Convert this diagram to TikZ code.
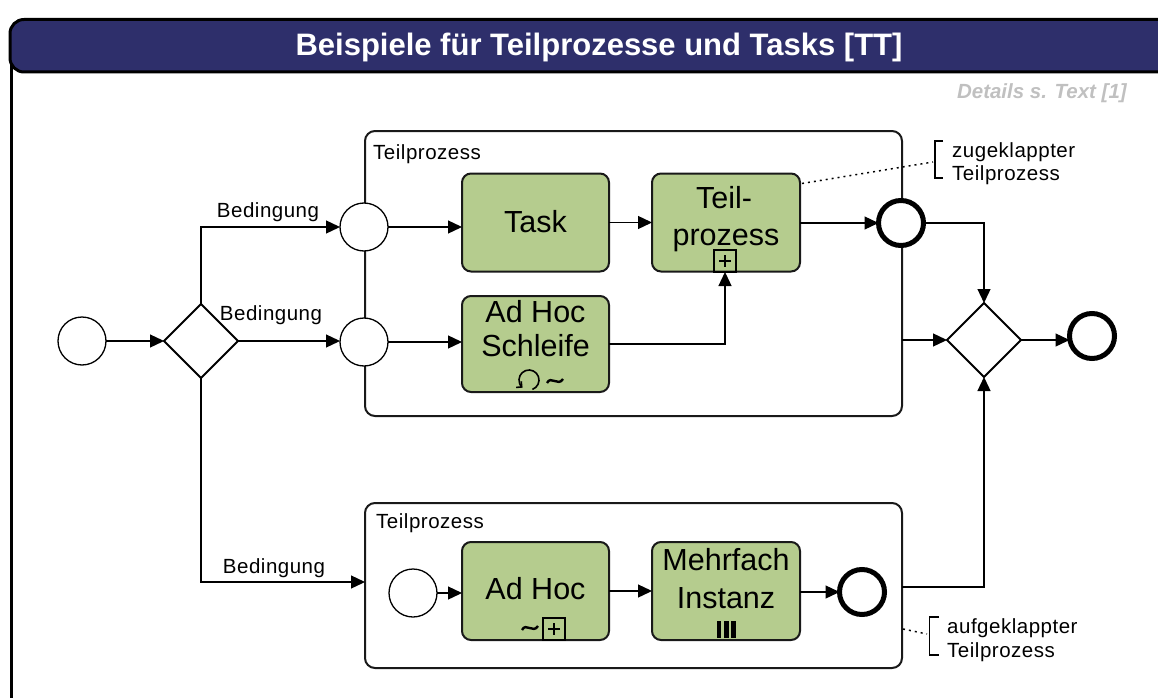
\documentclass[tikz,border=0pt]{standalone}
\usepackage{fontspec}
\setmainfont{Liberation Sans}
\newfontfamily\labelfont[LetterSpace=2.5]{Liberation Sans}
\usetikzlibrary{shapes.geometric,arrows.meta,calc}

\definecolor{hdrblue}{RGB}{46,47,107}
\definecolor{taskgreen}{RGB}{181,204,142}
\definecolor{notegray}{RGB}{192,192,192}
\definecolor{boxline}{RGB}{25,25,25}

\begin{document}
\begin{tikzpicture}[x=1pt,y=-1pt,
  flow/.style={line width=1.3pt,-{Triangle[length=14pt,width=13pt]}},
  startev/.style={circle,draw,line width=1.3pt,fill=white,minimum size=48pt,inner sep=0pt,outer sep=0pt},
  endev/.style={circle,draw,line width=5pt,fill=white,minimum size=45pt,inner sep=0pt,outer sep=0pt},
  gate/.style={diamond,draw,line width=1.8pt,fill=white,minimum size=74pt,inner sep=0pt,outer sep=0pt,aspect=1},
  taskbox/.style={draw=boxline,line width=2pt,fill=taskgreen,rounded corners=9pt,minimum height=98pt,inner sep=0pt,outer sep=0pt},
  tasktext/.style={font=\fontsize{30.5}{36}\selectfont,anchor=base,inner sep=0pt},
  subbox/.style={draw=boxline,line width=2pt,rounded corners=10pt,inner sep=0pt,outer sep=0pt},
  smalltext/.style={font=\labelfont\fontsize{20.5}{24}\selectfont,inner sep=0pt},
  plusbox/.style={draw,line width=1.6pt,minimum size=22pt,inner sep=0pt,outer sep=0pt},
  note/.style={line width=1.5pt,dash pattern=on 2pt off 4pt},
  bracket/.style={line width=1.3pt},
]
\useasboundingbox (0,0) rectangle (1158,698);
\clip (0,0) rectangle (1158,698);

% frame with title bar
\draw[line width=3pt] (11.5,60) -- (11.5,710);
\filldraw[fill=hdrblue,draw=black,line width=3pt,rounded corners=14pt] (10,19.5) rectangle (1185,72);
\node[font=\bfseries\fontsize{31}{36}\selectfont,text=white,anchor=base,inner sep=0pt] (title) at (599,56) {Beispiele für Teilprozesse und Tasks [TT]};
\node[font=\bfseries\itshape\fontsize{20.5}{24}\selectfont,text=notegray,anchor=base east,inner sep=0pt] (details) at (1127,99) {Details s. Text [1]};

% expanded sub-process containers
\node[subbox,minimum width=537pt,minimum height=285pt] (sub1) at (633.5,273.5) {};
\node[subbox,minimum width=537pt,minimum height=165pt] (sub2) at (633.5,585.5) {};
\node[smalltext,anchor=base west] (sub1lbl) at (373,159) {Teilprozess};
\node[smalltext,anchor=base west] (sub2lbl) at (376,528) {Teilprozess};

% events and gateways
\node[startev] (start0) at (82,341) {};
\node[gate] (gw1) at (201,341) {};
\node[startev] (s1) at (364,227) {};
\node[startev] (s2) at (364,342) {};
\node[endev] (e1) at (901,223) {};
\node[startev] (s3) at (413,593) {};
\node[endev] (e2) at (862,592) {};
\node[gate] (gw2) at (984,340) {};
\node[endev] (e3) at (1092,336) {};

% tasks
\node[taskbox,minimum width=147pt] (task) at (535.5,222.5) {};
\node[taskbox,minimum width=148pt] (teil) at (726,222.5) {};
\node[taskbox,minimum width=147pt,minimum height=96pt] (adhoc1) at (535.5,344) {};
\node[taskbox,minimum width=147pt] (adhoc2) at (535.5,591) {};
\node[taskbox,minimum width=148pt] (multi) at (726,591) {};

\node[tasktext] (tasktxt) at (535.5,232) {Task};
\node[tasktext] (teiltxta) at (724,208) {Teil-};
\node[tasktext] (teiltxtb) at (726,245) {prozess};
\node[tasktext] (ah1a) at (535.5,322) {Ad Hoc};
\node[tasktext] (ah1b) at (535.5,356) {Schleife};
\node[tasktext] (ah2a) at (535.5,599) {Ad Hoc};
\node[tasktext] (mia) at (726,570) {Mehrfach};
\node[tasktext] (mib) at (726,608) {Instanz};

% task markers
\node[plusbox] (teilplus) at (725,261) {};
\draw[line width=1.5pt] ($(teilplus)+(-6,0)$) -- ($(teilplus)+(6,0)$) ($(teilplus)+(0,-6)$) -- ($(teilplus)+(0,6)$);
\node[plusbox] (ah2plus) at (554,629) {};
\draw[line width=1.5pt] ($(ah2plus)+(-6,0)$) -- ($(ah2plus)+(6,0)$) ($(ah2plus)+(0,-6)$) -- ($(ah2plus)+(0,6)$);
\draw[line width=2.4pt] (522,630) .. controls (526,622) and (533,634) .. (538,626);
\draw[line width=2.4pt] (547,383) .. controls (551,375) and (558,387) .. (563,379);
\draw[line width=1.6pt,-{Straight Barb[length=4pt,width=8pt]}] (529,380) ++(70:10) arc (70:-230:10);
\draw[line width=4.5pt] (719,621) -- (719,638) (726.5,621) -- (726.5,638) (733.5,621) -- (733.5,638);

% sequence flows
\draw[flow] (start0.east) -- (gw1.west);
\draw[flow] (gw1.north) |- (s1.west);
\draw[flow] (gw1.east) -- (gw1.east -| s2.west);
\draw[flow] (gw1.south) |- ($(sub2.west)+(0,-3.5)$);
\draw[flow] (s1.east) -- (s1.east -| task.west);
\draw[flow] (task.east) -- (teil.west);
\draw[flow] (teil.east |- e1.west) -- (e1.west);
\draw[flow] (s2.east) -- (s2.east -| adhoc1.west);
\draw[flow] (adhoc1.east) -| (teilplus.south);
\draw[flow] (e1.east) -| (gw2.north);
\draw[flow] (sub1.east |- gw2.west) -- (gw2.west);
\draw[flow] ($(sub2.east)+(0,1.5)$) -| (gw2.south);
\draw[flow] (gw2.east) -- (gw2.east -| e3.west);
\draw[flow] (s3.east) -- (s3.east -| adhoc2.west);
\draw[flow] (adhoc2.east) -- (multi.west);
\draw[flow] (multi.east |- e2.west) -- (e2.west);

% annotations
\coordinate (n1) at (933,162);
\coordinate (n2) at (927,634);
\draw[note] ($(teil.north east)+(2,10)$) -- (n1);
\draw[note] ($(sub2.east)+(1,43.5)$) -- (n2);
\draw[bracket] (943,141) -- (935,141) -- (935,178) -- (943,178);
\draw[bracket] (939,617) -- (929.5,617) -- (929.5,655) -- (939,655);
\node[smalltext,anchor=base west] (note1a) at (952,157) {zugeklappter};
\node[smalltext,anchor=base west] (note1b) at (952,180) {Teilprozess};
\node[smalltext,anchor=base west] (note2a) at (947,633) {aufgeklappter};
\node[smalltext,anchor=base west] (note2b) at (947,657) {Teilprozess};

% condition labels
\node[smalltext,anchor=base] (c1) at (268,217) {Bedingung};
\node[smalltext,anchor=base] (c2) at (271,320) {Bedingung};
\node[smalltext,anchor=base] (c3) at (274,573) {Bedingung};
\end{tikzpicture}
\end{document}
